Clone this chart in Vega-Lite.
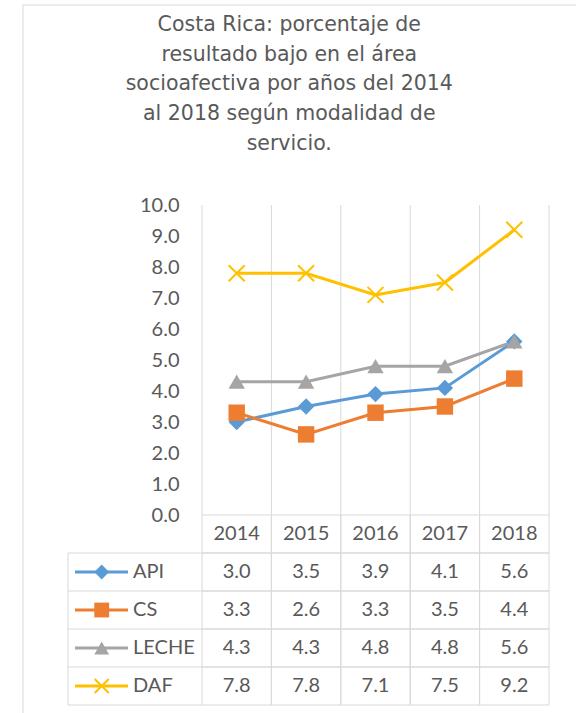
{
  "$schema": "https://vega.github.io/schema/vega-lite/v6.json",
  "width": 559.5,
  "height": 714.5,
  "autosize": {"type": "none"},
  "padding": {"left": 22.5, "top": 4.5, "right": -6, "bottom": -6},
  "background": "white",
  "config": {"view": {"stroke": "#d9d9d9", "strokeWidth": 1}, "font": "Lato"},
  "title": {
    "text": ["Costa Rica: porcentaje de", "resultado bajo en el área", "socioafectiva por años del 2014", "al 2018 según modalidad de", "servicio."],
    "font": "DejaVu Sans", "fontSize": 20.5, "fontWeight": "normal", "color": "#595959",
    "anchor": "middle", "lineHeight": 29.8, "dx": -13, "dy": 154
  },
  "datasets": {
    "vals": [
      {"year": "2014", "series": "API", "value": 3.0},
      {"year": "2015", "series": "API", "value": 3.5},
      {"year": "2016", "series": "API", "value": 3.9},
      {"year": "2017", "series": "API", "value": 4.1},
      {"year": "2018", "series": "API", "value": 5.6},
      {"year": "2014", "series": "CS", "value": 3.3},
      {"year": "2015", "series": "CS", "value": 2.6},
      {"year": "2016", "series": "CS", "value": 3.3},
      {"year": "2017", "series": "CS", "value": 3.5},
      {"year": "2018", "series": "CS", "value": 4.4},
      {"year": "2014", "series": "LECHE", "value": 4.3},
      {"year": "2015", "series": "LECHE", "value": 4.3},
      {"year": "2016", "series": "LECHE", "value": 4.8},
      {"year": "2017", "series": "LECHE", "value": 4.8},
      {"year": "2018", "series": "LECHE", "value": 5.6},
      {"year": "2014", "series": "DAF", "value": 7.8},
      {"year": "2015", "series": "DAF", "value": 7.8},
      {"year": "2016", "series": "DAF", "value": 7.1},
      {"year": "2017", "series": "DAF", "value": 7.5},
      {"year": "2018", "series": "DAF", "value": 9.2}
    ]
  },
  "data": {"name": "vals"},
  "layer": [
    {
      "layer": [
        {
          "mark": {"type": "rule", "color": "#d9d9d9", "strokeWidth": 1},
          "transform": [{"filter": "datum.series == 'API'"}],
          "encoding": {
            "x": {"field": "year", "type": "ordinal", "bandPosition": 0, "axis": null,
                  "scale": {"type": "band", "domain": ["2014", "2015", "2016", "2017", "2018"], "range": [179.5, 526.5], "paddingInner": 0, "paddingOuter": 0}},
            "y": {"datum": 0, "type": "quantitative"},
            "y2": {"datum": 10}
          }
        },
        {
          "mark": {"type": "rule", "color": "#d9d9d9", "strokeWidth": 1},
          "transform": [{"filter": "datum.series == 'API' && datum.year == '2018'"}],
          "encoding": {
            "x": {"field": "year", "type": "ordinal", "bandPosition": 1},
            "y": {"datum": 0, "type": "quantitative"},
            "y2": {"datum": 10}
          }
        },
        {
          "mark": {"type": "line", "strokeWidth": 3},
          "encoding": {
            "x": {"field": "year", "type": "ordinal"},
            "y": {"field": "value", "type": "quantitative",
                  "scale": {"domain": [0, 10], "range": [510.5, 200.5], "nice": false, "zero": false},
                  "axis": {"values": [0, 1, 2, 3, 4, 5, 6, 7, 8, 9, 10], "format": ".1f", "offset": -179.5, "labelPadding": 23,
                           "ticks": false, "domain": false, "grid": false, "title": null,
                           "labelFont": "Lato", "labelFontSize": 20, "labelColor": "#595959"}},
            "color": {"field": "series", "type": "nominal", "legend": null,
                      "scale": {"domain": ["API", "CS", "LECHE", "DAF"], "range": ["#5B9BD5", "#ED7D31", "#A5A5A5", "#FFC000"]}}
          }
        },
        {
          "mark": {"type": "point", "filled": true, "opacity": 1, "size": 270},
          "transform": [{"filter": "datum.series != 'DAF'"}],
          "encoding": {
            "x": {"field": "year", "type": "ordinal"},
            "y": {"field": "value", "type": "quantitative"},
            "color": {"field": "series", "type": "nominal"},
            "shape": {"field": "series", "type": "nominal", "legend": null,
                      "scale": {"domain": ["API", "CS", "LECHE"], "range": ["diamond", "square", "triangle-up"]}}
          }
        },
        {
          "mark": {"type": "point", "shape": "M-1,-1L1,1M-1,1L1,-1", "filled": false, "strokeWidth": 2, "size": 256, "color": "#FFC000", "opacity": 1},
          "transform": [{"filter": "datum.series == 'DAF'"}],
          "encoding": {
            "x": {"field": "year", "type": "ordinal"},
            "y": {"field": "value", "type": "quantitative"}
          }
        }
      ]
    },
    {
      "layer": [
        {
          "mark": {"type": "rect", "fill": "transparent", "stroke": "#d9d9d9", "strokeWidth": 1},
          "encoding": {
            "x": {"field": "year", "type": "ordinal"},
            "y": {"field": "series", "type": "nominal", "axis": null,
                  "scale": {"type": "band", "domain": ["hdr", "API", "CS", "LECHE", "DAF"], "range": [510.5, 700.5], "paddingInner": 0, "paddingOuter": 0}}
          }
        },
        {
          "mark": {"type": "rect", "fill": "transparent", "stroke": "#d9d9d9", "strokeWidth": 1},
          "transform": [{"filter": "datum.series == 'API'"}],
          "encoding": {
            "x": {"field": "year", "type": "ordinal"},
            "y": {"datum": "hdr", "type": "nominal"}
          }
        },
        {
          "mark": {"type": "rule", "color": "#d9d9d9", "strokeWidth": 1},
          "transform": [{"filter": "datum.year == '2014'"}],
          "encoding": {
            "x": {"field": "year", "type": "ordinal", "bandPosition": -1.931},
            "x2": {"field": "year", "bandPosition": 0},
            "y": {"field": "series", "type": "nominal", "bandPosition": 0}
          }
        },
        {
          "mark": {"type": "rule", "color": "#d9d9d9", "strokeWidth": 1},
          "transform": [{"filter": "datum.year == '2014' && datum.series == 'DAF'"}],
          "encoding": {
            "x": {"field": "year", "type": "ordinal", "bandPosition": -1.931},
            "x2": {"field": "year", "bandPosition": 0},
            "y": {"field": "series", "type": "nominal", "bandPosition": 1}
          }
        },
        {
          "mark": {"type": "rule", "color": "#d9d9d9", "strokeWidth": 1},
          "transform": [{"filter": "datum.year == '2014' && datum.series == 'API'"}],
          "encoding": {
            "x": {"field": "year", "type": "ordinal", "bandPosition": -1.931},
            "y": {"field": "series", "type": "nominal", "bandPosition": 0},
            "y2": {"datum": "DAF", "bandPosition": 1}
          }
        },
        {
          "mark": {"type": "text", "font": "Lato", "fontSize": 20, "color": "#595959", "baseline": "middle", "align": "center"},
          "transform": [{"filter": "datum.series == 'API'"}],
          "encoding": {
            "x": {"field": "year", "type": "ordinal"},
            "y": {"datum": "hdr", "type": "nominal"},
            "text": {"field": "year"}
          }
        },
        {
          "mark": {"type": "text", "font": "Lato", "fontSize": 20, "color": "#595959", "baseline": "middle", "align": "center"},
          "encoding": {
            "x": {"field": "year", "type": "ordinal"},
            "y": {"field": "series", "type": "nominal"},
            "text": {"field": "value", "format": ".1f"}
          }
        },
        {
          "mark": {"type": "rule", "strokeWidth": 3},
          "transform": [{"filter": "datum.year == '2014'"}],
          "encoding": {
            "x": {"field": "year", "type": "ordinal", "bandPosition": -1.83},
            "x2": {"field": "year", "bandPosition": -1.066},
            "y": {"field": "series", "type": "nominal"},
            "color": {"field": "series", "type": "nominal"}
          }
        },
        {
          "mark": {"type": "point", "filled": true, "opacity": 1, "size": 220},
          "transform": [{"filter": "datum.year == '2014' && datum.series != 'DAF'"}],
          "encoding": {
            "x": {"field": "year", "type": "ordinal", "bandPosition": -1.445},
            "y": {"field": "series", "type": "nominal"},
            "color": {"field": "series", "type": "nominal"},
            "shape": {"field": "series", "type": "nominal"}
          }
        },
        {
          "mark": {"type": "point", "shape": "M-1,-1L1,1M-1,1L1,-1", "filled": false, "strokeWidth": 2, "size": 200, "color": "#FFC000", "opacity": 1},
          "transform": [{"filter": "datum.year == '2014' && datum.series == 'DAF'"}],
          "encoding": {
            "x": {"field": "year", "type": "ordinal", "bandPosition": -1.445},
            "y": {"field": "series", "type": "nominal"}
          }
        },
        {
          "mark": {"type": "text", "font": "Lato", "fontSize": 20, "color": "#595959", "baseline": "middle", "align": "left"},
          "transform": [{"filter": "datum.year == '2014'"}],
          "encoding": {
            "x": {"field": "year", "type": "ordinal", "bandPosition": -0.994},
            "y": {"field": "series", "type": "nominal"},
            "text": {"field": "series"}
          }
        }
      ]
    }
  ],
  "resolve": {"scale": {"y": "independent"}, "axis": {"y": "independent"}}
}
